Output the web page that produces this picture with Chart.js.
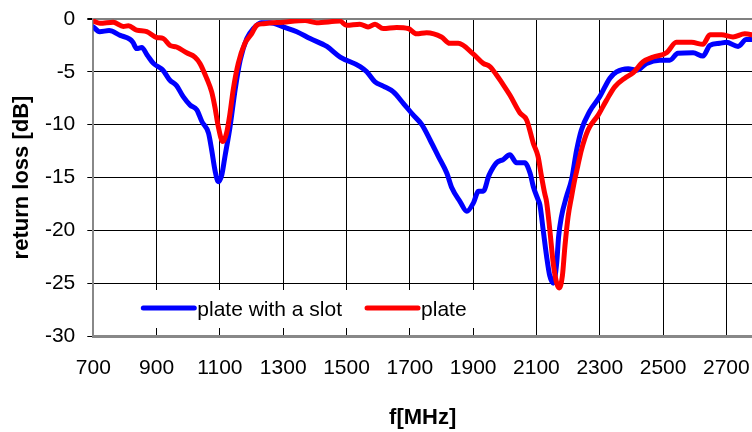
<!DOCTYPE html>
<html>
<head>
<meta charset="utf-8">
<script src="https://cdn.jsdelivr.net/npm/chart.js@4"></script>
<style>
  html, body { margin: 0; padding: 0; background: #fff; }
  #wrap { width: 752px; height: 432px; }
</style>
</head>
<body>
<div id="wrap"><canvas id="lossChart" width="752" height="432"></canvas></div>
<script>
// values
const slotFreq = [700, 720, 750, 785, 815, 825, 837, 853, 870, 890, 920, 942, 963, 984, 1006, 1027, 1043, 1064, 1074, 1085, 1095, 1106, 1116, 1132, 1148, 1164, 1185, 1206, 1230, 1258, 1300, 1343, 1385, 1438, 1480, 1543, 1564, 1590, 1616, 1648, 1680, 1711, 1738, 1764, 1790, 1817, 1833, 1859, 1880, 1901, 1917, 1932, 1950, 1974, 1995, 2016, 2037, 2063, 2080, 2090, 2105, 2111, 2121, 2132, 2142, 2153, 2164, 2170, 2179, 2195, 2211, 2227, 2242, 2268, 2300, 2332, 2353, 2390, 2416, 2448, 2490, 2521, 2547, 2595, 2626, 2648, 2679, 2700, 2737, 2763, 2790];
const slotLoss = [-0.75, -1.2, -1.1, -1.55, -1.9, -2.2, -2.8, -2.7, -3.4, -4.2, -4.85, -5.8, -6.3, -7.35, -8.15, -8.6, -9.7, -10.8, -12.4, -14.4, -15.4, -14.75, -13.0, -10.2, -6.7, -3.9, -1.85, -0.9, -0.35, -0.35, -0.75, -1.2, -1.85, -2.6, -3.6, -4.5, -5.0, -5.95, -6.35, -6.9, -8.0, -9.1, -10.0, -11.45, -13.0, -14.6, -16.0, -17.3, -18.2, -17.4, -16.3, -16.3, -14.8, -13.6, -13.3, -12.85, -13.6, -13.6, -14.6, -15.85, -17.1, -17.6, -19.9, -22.45, -24.3, -25.0, -23.1, -20.6, -18.7, -16.8, -15.2, -12.4, -10.5, -8.75, -7.35, -5.6, -5.0, -4.7, -4.85, -4.2, -3.9, -3.9, -3.25, -3.2, -3.5, -2.5, -2.3, -2.2, -2.6, -1.95, -1.95];

const plateFreq = [700, 721, 763, 795, 811, 837, 869, 900, 921, 942, 963, 995, 1021, 1037, 1058, 1074, 1084, 1095, 1109, 1121, 1132, 1142, 1158, 1179, 1200, 1216, 1237, 1300, 1369, 1405, 1479, 1500, 1542, 1568, 1590, 1616, 1658, 1695, 1721, 1753, 1800, 1826, 1853, 1900, 1932, 1953, 1974, 1990, 2016, 2048, 2069, 2090, 2105, 2116, 2126, 2132, 2142, 2153, 2164, 2172, 2182, 2190, 2200, 2211, 2221, 2230, 2242, 2263, 2295, 2321, 2348, 2379, 2405, 2437, 2469, 2511, 2542, 2590, 2626, 2648, 2685, 2721, 2758, 2790];
const plateLoss = [-0.2, -0.4, -0.3, -0.7, -0.65, -1.05, -1.2, -1.75, -1.85, -2.5, -2.65, -3.2, -3.6, -4.2, -5.6, -6.9, -8.3, -10.2, -11.6, -10.8, -8.9, -6.7, -4.2, -2.3, -1.4, -0.6, -0.45, -0.3, -0.15, -0.35, -0.2, -0.6, -0.5, -0.75, -0.5, -0.9, -0.8, -0.9, -1.4, -1.3, -1.7, -2.3, -2.3, -3.3, -4.2, -4.5, -5.3, -6.0, -7.2, -8.9, -9.55, -11.75, -13.0, -14.9, -16.5, -17.3, -19.9, -23.1, -25.0, -25.45, -24.3, -21.5, -18.7, -16.8, -15.2, -14.0, -12.4, -10.5, -9.1, -7.7, -6.4, -5.6, -5.1, -4.05, -3.6, -3.2, -2.2, -2.2, -2.4, -1.5, -1.5, -1.7, -1.4, -1.55];

const seriesNames = ['plate with a slot', 'plate'];
const xTicks = [700, 900, 1100, 1300, 1500, 1700, 1900, 2100, 2300, 2500, 2700];
const yTicks = [0, -5, -10, -15, -20, -25, -30];

const toPoints = (xs, ys) => xs.map((x, i) => ({ x: x, y: ys[i] }));
const FONT = '"Liberation Sans", Arial, sans-serif';

// legend sits inside the plot, near the bottom, on a white box
const insideLegend = {
  id: 'insideLegend',
  afterDatasetsDraw(chart) {
    const ctx = chart.ctx;
    const area = chart.chartArea;
    const boxX = area.left + 40;
    const boxY = area.bottom - 46;
    ctx.save();
    ctx.fillStyle = '#ffffff';
    ctx.fillRect(boxX, boxY, 352, 38);
    ctx.font = '21px ' + FONT;
    ctx.textBaseline = 'middle';
    ctx.textAlign = 'left';
    let x = boxX + 10;
    const y = boxY + 18;
    chart.data.datasets.forEach(ds => {
      ctx.strokeStyle = ds.borderColor;
      ctx.lineWidth = 5;
      ctx.lineCap = 'round';
      ctx.beginPath();
      ctx.moveTo(x, y);
      ctx.lineTo(x + 51, y);
      ctx.stroke();
      ctx.fillStyle = '#000';
      ctx.fillText(ds.label, x + 54, y + 2);
      x += 54 + ctx.measureText(ds.label).width + 25;
    });
    ctx.restore();
  }
};

new Chart(document.getElementById('lossChart'), {
  type: 'line',
  data: {
    datasets: [{
      label: seriesNames[0],
      data: toPoints(slotFreq, slotLoss),
      borderColor: '#0000ff',
      order: 1
    }, {
      label: seriesNames[1],
      data: toPoints(plateFreq, plateLoss),
      borderColor: '#ff0000',
      order: 0
    }]
  },
  options: {
    responsive: false,
    animation: false,
    layout: { padding: { top: 19, right: 0, bottom: 0, left: 0 } },
    elements: {
      line: { borderWidth: 5, cubicInterpolationMode: 'monotone', borderJoinStyle: 'round', borderCapStyle: 'round', fill: false },
      point: { radius: 0 }
    },
    plugins: {
      legend: { display: false },
      tooltip: { enabled: false }
    },
    scales: {
      x: {
        type: 'linear',
        min: 700,
        max: 2781,
        afterBuildTicks: s => { s.ticks = xTicks.map(v => ({ value: v })); },
        afterFit: s => { s.height = 96; s.paddingLeft = 0; s.paddingRight = 0; },
        grid: { color: '#000', lineWidth: 1, tickLength: 20, tickColor: 'rgba(0,0,0,0)' },
        border: { color: '#888', width: 3 },
        ticks: {
          padding: 0,
          maxRotation: 0,
          autoSkip: false,
          color: '#000',
          font: { family: FONT, size: 21 },
          callback: v => String(v)
        },
        title: {
          display: true,
          text: 'f[MHz]',
          color: '#000',
          font: { family: FONT, size: 22, weight: 'bold' },
          padding: { top: 0, bottom: 1 }
        }
      },
      y: {
        min: -30,
        max: 0,
        afterBuildTicks: s => { s.ticks = yTicks.map(v => ({ value: v })); },
        afterFit: s => { s.width = 93.3; s.paddingTop = 0; s.paddingBottom = 0; },
        grid: {
          color: c => (c.tick && c.tick.value === 0) ? '#808080' : '#000',
          lineWidth: c => (c.tick && c.tick.value === 0) ? 2 : 1,
          tickColor: '#000',
          tickLength: 6
        },
        border: { color: '#888', width: 2 },
        ticks: {
          padding: 12,
          color: '#000',
          font: { family: FONT, size: 21 },
          callback: v => String(v)
        },
        title: {
          display: true,
          text: 'return loss [dB]',
          color: '#000',
          font: { family: FONT, size: 22, weight: 'bold' },
          padding: { top: 9, bottom: 0 }
        }
      }
    }
  },
  plugins: [insideLegend]
});
</script>
</body>
</html>
